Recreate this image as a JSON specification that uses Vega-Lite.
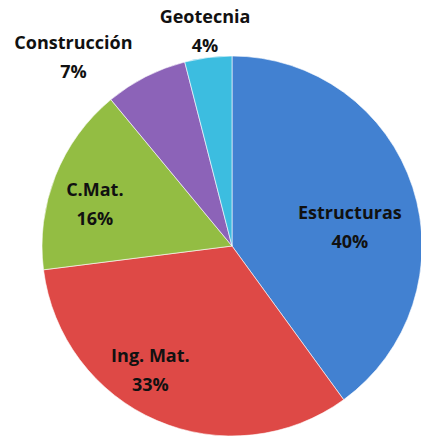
{
  "$schema": "https://vega.github.io/schema/vega-lite/v6.json",
  "width": 380,
  "height": 380,
  "autosize": {"type": "none"},
  "padding": {"left": 42, "top": 56, "right": 0, "bottom": 0},
  "background": "white",
  "view": {"stroke": null},
  "data": {
    "values": [
      {"idx": 1, "cat": "Estructuras", "value": 40, "label": "Estructuras\n40%"},
      {"idx": 2, "cat": "Ing. Mat.", "value": 33, "label": "Ing. Mat.\n33%"},
      {"idx": 3, "cat": "C.Mat.", "value": 16, "label": "C.Mat.\n16%"},
      {"idx": 4, "cat": "Construcción", "value": 7, "label": "Construcción\n7%"},
      {"idx": 5, "cat": "Geotecnia", "value": 4, "label": "Geotecnia\n4%"}
    ]
  },
  "encoding": {
    "theta": {"field": "value", "type": "quantitative", "stack": true},
    "order": {"field": "idx", "type": "quantitative"}
  },
  "layer": [
    {
      "mark": {"type": "arc", "outerRadius": 190, "stroke": "#ffffff", "strokeWidth": 0.6},
      "encoding": {
        "color": {
          "field": "cat", "type": "nominal", "legend": null,
          "scale": {
            "domain": ["Estructuras", "Ing. Mat.", "C.Mat.", "Construcción", "Geotecnia"],
            "range": ["#4281d1", "#de4946", "#93bd43", "#8c63b8", "#3cbde0"]
          }
        }
      }
    },
    {
      "mark": {"type": "text", "radius": 125, "dx": -1, "dy": 7, "font": "Open Sans", "fontWeight": "bold", "fontSize": 18, "lineBreak": "\n", "lineHeight": 29, "align": "center", "baseline": "middle", "color": "#111111"},
      "encoding": {"text": {"condition": {"test": "datum.cat === 'Estructuras'", "field": "label"}, "value": ""}}
    },
    {
      "mark": {"type": "text", "radius": 140, "dx": -26, "dy": -17, "font": "Open Sans", "fontWeight": "bold", "fontSize": 18, "lineBreak": "\n", "lineHeight": 29, "align": "center", "baseline": "middle", "color": "#111111"},
      "encoding": {"text": {"condition": {"test": "datum.cat === 'Ing. Mat.'", "field": "label"}, "value": ""}}
    },
    {
      "mark": {"type": "text", "radius": 140, "dx": -7, "dy": -3, "font": "Open Sans", "fontWeight": "bold", "fontSize": 18, "lineBreak": "\n", "lineHeight": 29, "align": "center", "baseline": "middle", "color": "#111111"},
      "encoding": {"text": {"condition": {"test": "datum.cat === 'C.Mat.'", "field": "label"}, "value": ""}}
    },
    {
      "mark": {"type": "text", "radius": 215, "dx": -61, "dy": -10, "font": "Open Sans", "fontWeight": "bold", "fontSize": 18, "lineBreak": "\n", "lineHeight": 29, "align": "center", "baseline": "middle", "color": "#111111"},
      "encoding": {"text": {"condition": {"test": "datum.cat === 'Construcción'", "field": "label"}, "value": ""}}
    },
    {
      "mark": {"type": "text", "radius": 215, "dx": 0, "dy": -15, "font": "Open Sans", "fontWeight": "bold", "fontSize": 18, "lineBreak": "\n", "lineHeight": 29, "align": "center", "baseline": "middle", "color": "#111111"},
      "encoding": {"text": {"condition": {"test": "datum.cat === 'Geotecnia'", "field": "label"}, "value": ""}}
    }
  ]
}
